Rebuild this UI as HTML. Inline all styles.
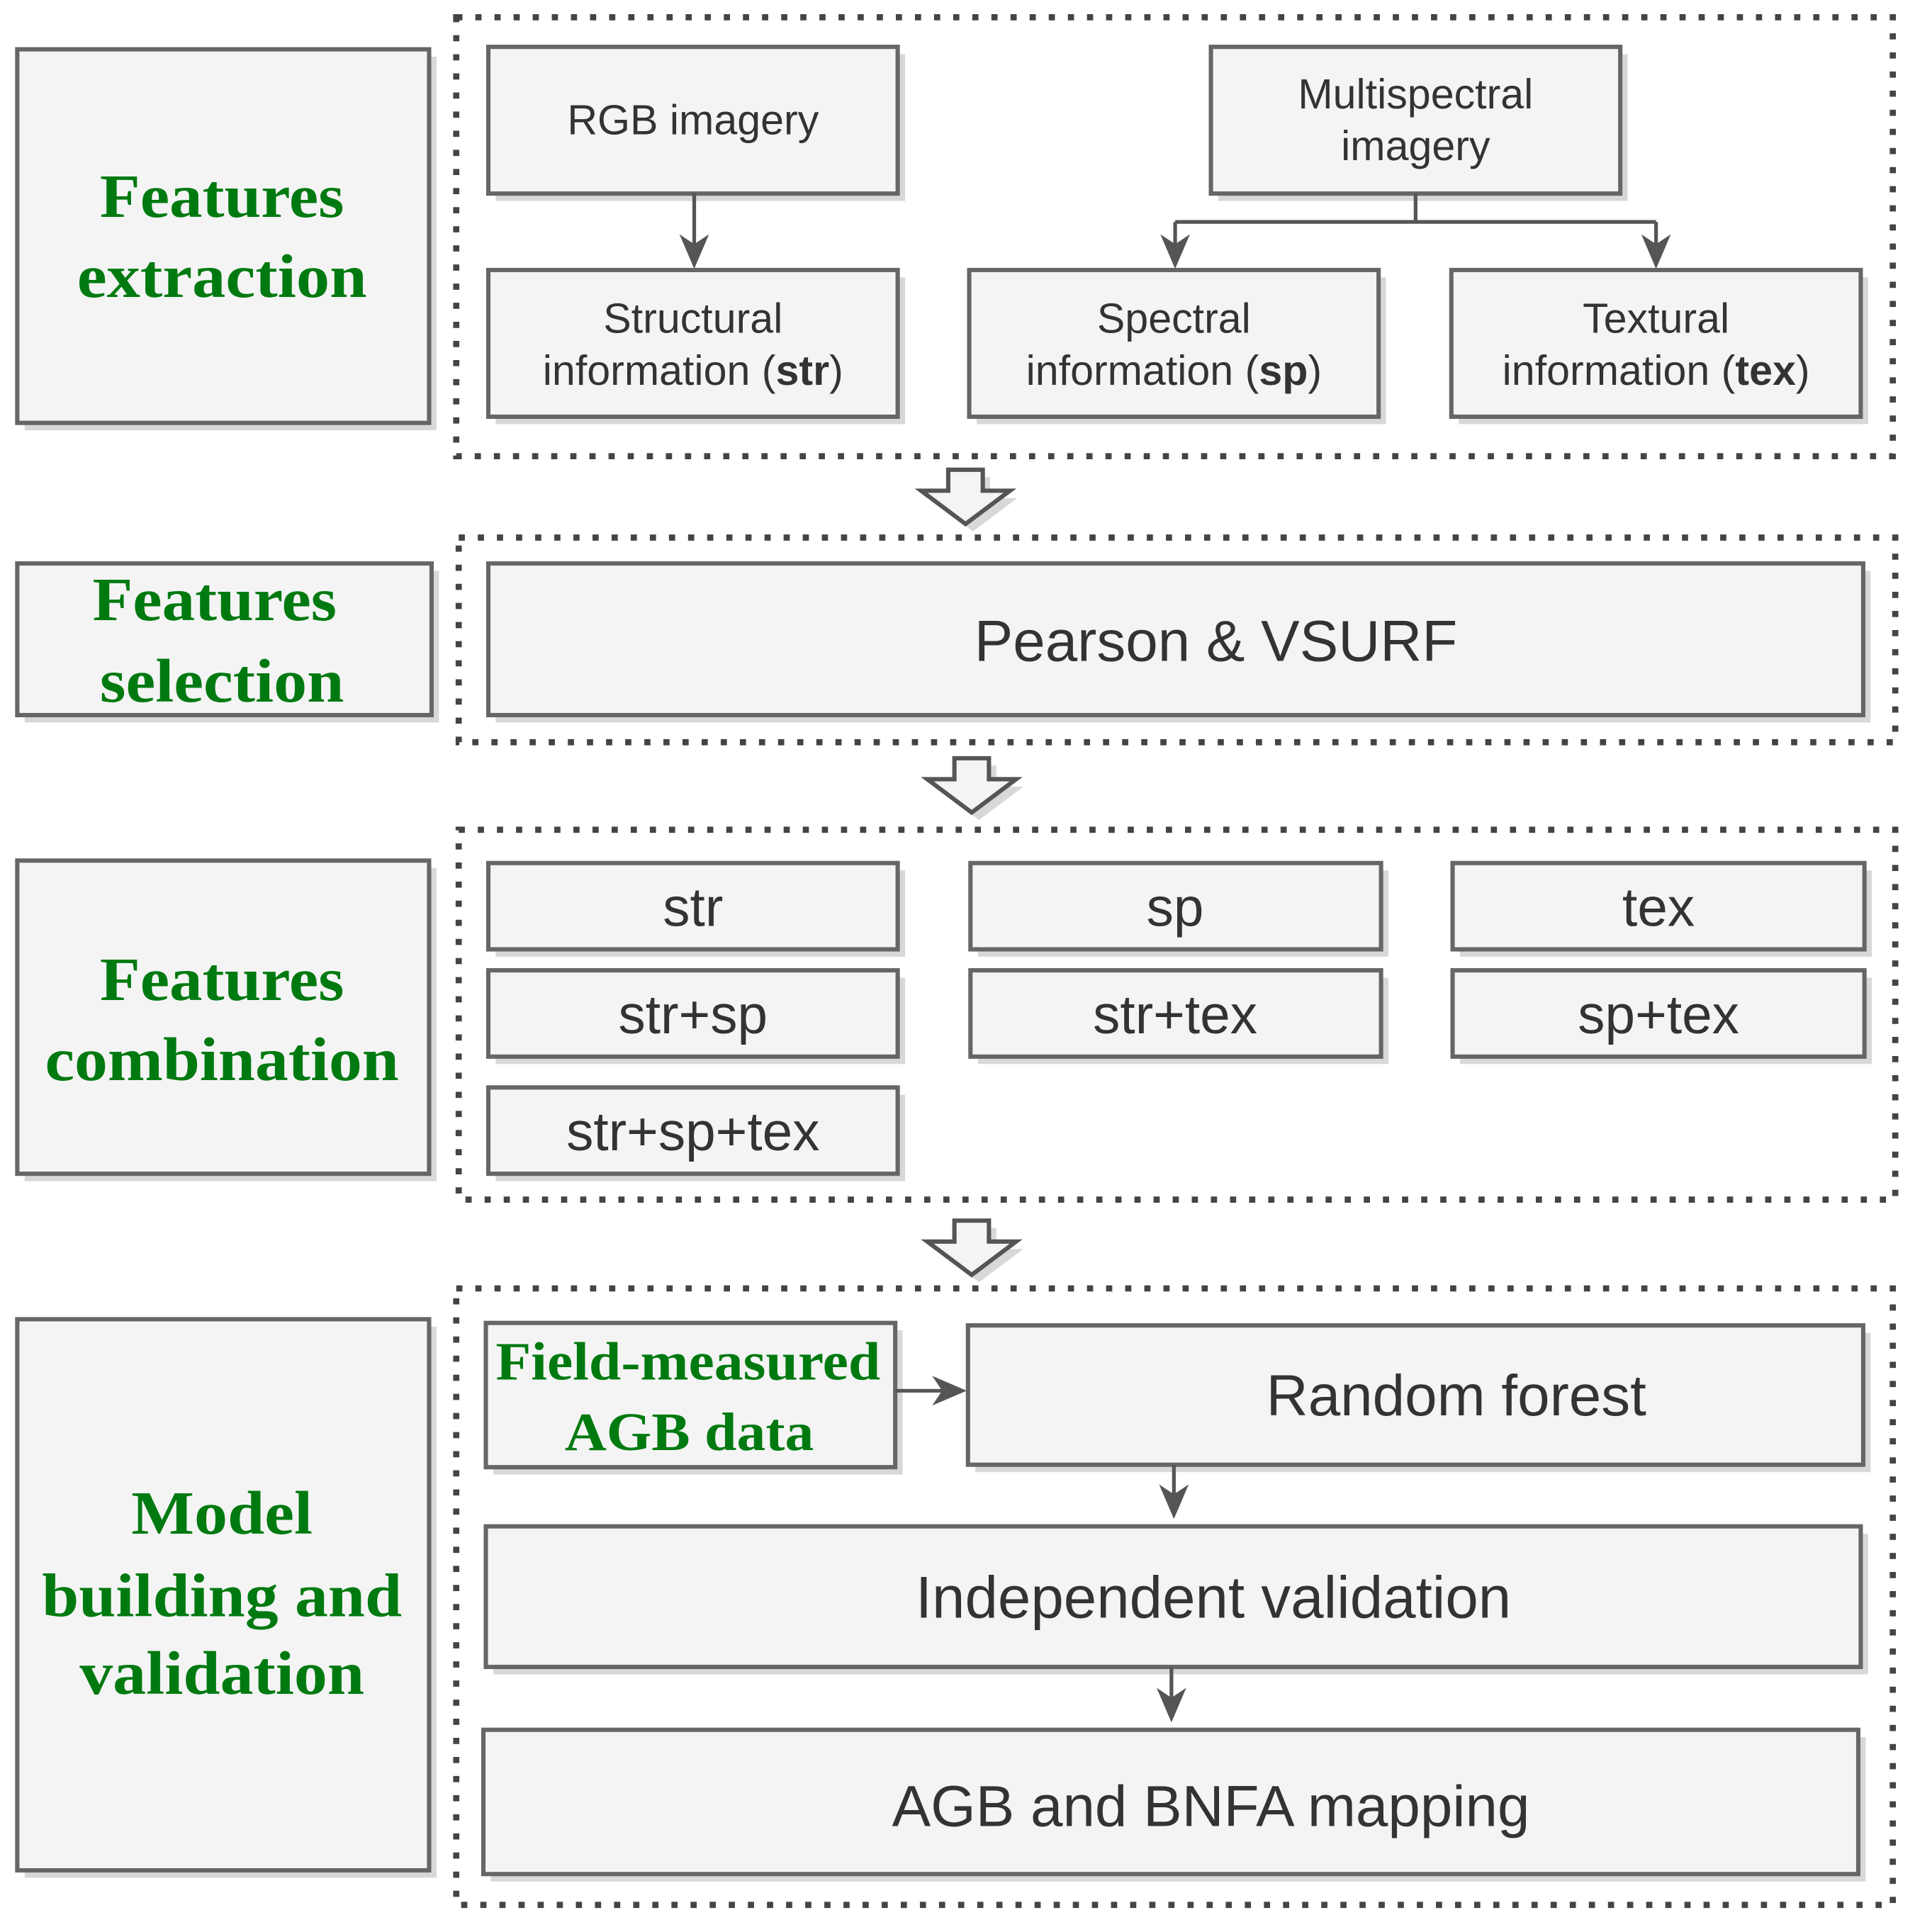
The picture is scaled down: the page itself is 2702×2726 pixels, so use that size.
<!DOCTYPE html>
<html><head><meta charset="utf-8"><style>
html,body{margin:0;padding:0;background:#fff;}
svg{display:block;}
.b{fill:#f4f4f4;stroke:#666;stroke-width:3.5;}
.s{fill:#c8c8c8;stroke:none;opacity:.7;}
.d{fill:none;stroke:#444;stroke-width:5;stroke-dasharray:5 10.5;}
.t{font-family:"Liberation Sans",sans-serif;fill:#333;text-anchor:middle;}
.g{font-family:"Liberation Serif",serif;font-weight:bold;fill:#007a10;text-anchor:middle;}
.l{stroke:#555;stroke-width:3;fill:none;}
.a{fill:#555;}
.h{fill:#f4f4f4;stroke:#555;stroke-width:3.5;}
</style></head><body>
<svg width="2702" height="2726" viewBox="0 0 1553 1567" preserveAspectRatio="none" xmlns="http://www.w3.org/2000/svg">
<rect class="d" x="370" y="14" width="1165" height="356"/>
<rect class="d" x="372" y="436" width="1165" height="166"/>
<rect class="d" x="372" y="673" width="1165" height="300"/>
<rect class="d" x="370" y="1045" width="1165" height="500"/>

<rect class="s" x="20" y="46" width="334" height="303"/><rect class="b" x="14" y="40" width="334" height="303"/>
<text class="g" font-size="50" x="180" y="176" textLength="198" lengthAdjust="spacingAndGlyphs">Features</text><text class="g" font-size="50" x="180" y="241" textLength="235" lengthAdjust="spacingAndGlyphs">extraction</text>
<rect class="s" x="20" y="463" width="336" height="123"/><rect class="b" x="14" y="457" width="336" height="123"/>
<text class="g" font-size="50" x="174" y="503" textLength="198" lengthAdjust="spacingAndGlyphs">Features</text><text class="g" font-size="50" x="180" y="569" textLength="198" lengthAdjust="spacingAndGlyphs">selection</text>
<rect class="s" x="20" y="704" width="334" height="254"/><rect class="b" x="14" y="698" width="334" height="254"/>
<text class="g" font-size="50" x="180" y="811" textLength="198" lengthAdjust="spacingAndGlyphs">Features</text><text class="g" font-size="50" x="180" y="876" textLength="287" lengthAdjust="spacingAndGlyphs">combination</text>
<rect class="s" x="20" y="1076" width="334" height="447"/><rect class="b" x="14" y="1070" width="334" height="447"/>
<text class="g" font-size="50" x="180" y="1244" textLength="147" lengthAdjust="spacingAndGlyphs">Model</text><text class="g" font-size="50" x="180" y="1311" textLength="292" lengthAdjust="spacingAndGlyphs">building and</text><text class="g" font-size="50" x="180" y="1374" textLength="231" lengthAdjust="spacingAndGlyphs">validation</text>

<rect class="s" x="402" y="44" width="332" height="119"/><rect class="b" x="396" y="38" width="332" height="119"/>
<text class="t" font-size="34" x="562" y="109">RGB imagery</text>
<rect class="s" x="988" y="44" width="332" height="119"/><rect class="b" x="982" y="38" width="332" height="119"/>
<text class="t" font-size="34" x="1148" y="88">Multispectral</text><text class="t" font-size="34" x="1148" y="130">imagery</text>
<rect class="s" x="402" y="225" width="332" height="119"/><rect class="b" x="396" y="219" width="332" height="119"/>
<text class="t" font-size="34" x="562" y="270">Structural</text><text class="t" font-size="34" x="562" y="312">information (<tspan font-weight="bold">str</tspan>)</text>
<rect class="s" x="792" y="225" width="332" height="119"/><rect class="b" x="786" y="219" width="332" height="119"/>
<text class="t" font-size="34" x="952" y="270">Spectral</text><text class="t" font-size="34" x="952" y="312">information (<tspan font-weight="bold">sp</tspan>)</text>
<rect class="s" x="1183" y="225" width="332" height="119"/><rect class="b" x="1177" y="219" width="332" height="119"/>
<text class="t" font-size="34" x="1343" y="270">Textural</text><text class="t" font-size="34" x="1343" y="312">information (<tspan font-weight="bold">tex</tspan>)</text>
<path class="l" d="M563 157 V205"/><path class="a" d="M551 190 L563 218 L575 190 L563 198Z"/>
<path class="l" d="M1148 157 V180 M953 180 H1343 M953 180 V205 M1343 180 V205"/>
<path class="a" d="M941 190 L953 218 L965 190 L953 198Z"/><path class="a" d="M1331 190 L1343 218 L1355 190 L1343 198Z"/>

<path class="s" d="M775 387 H803 V404 H825 L789 431 L753 404 H775Z"/>
<path class="h" d="M769 381 H797 V398 H819 L783 425 L747 398 H769Z"/>
<path class="s" d="M780 621 H808 V638 H830 L794 665 L758 638 H780Z"/>
<path class="h" d="M774 615 H802 V632 H824 L788 659 L752 632 H774Z"/>
<path class="s" d="M780 996 H808 V1013 H830 L794 1040 L758 1013 H780Z"/>
<path class="h" d="M774 990 H802 V1007 H824 L788 1034 L752 1007 H774Z"/>

<rect class="s" x="402" y="463" width="1115" height="123"/><rect class="b" x="396" y="457" width="1115" height="123"/>
<text class="t" font-size="47" x="986" y="536">Pearson &amp; VSURF</text>

<rect class="s" x="402" y="706" width="332" height="70"/><rect class="b" x="396" y="700" width="332" height="70"/><text class="t" font-size="44" x="562" y="751">str</text>
<rect class="s" x="793" y="706" width="333" height="70"/><rect class="b" x="787" y="700" width="333" height="70"/><text class="t" font-size="44" x="953" y="751">sp</text>
<rect class="s" x="1184" y="706" width="334" height="70"/><rect class="b" x="1178" y="700" width="334" height="70"/><text class="t" font-size="44" x="1345" y="751">tex</text>
<rect class="s" x="402" y="793" width="332" height="70"/><rect class="b" x="396" y="787" width="332" height="70"/><text class="t" font-size="44" x="562" y="838">str+sp</text>
<rect class="s" x="793" y="793" width="333" height="70"/><rect class="b" x="787" y="787" width="333" height="70"/><text class="t" font-size="44" x="953" y="838">str+tex</text>
<rect class="s" x="1184" y="793" width="334" height="70"/><rect class="b" x="1178" y="787" width="334" height="70"/><text class="t" font-size="44" x="1345" y="838">sp+tex</text>
<rect class="s" x="402" y="888" width="332" height="70"/><rect class="b" x="396" y="882" width="332" height="70"/><text class="t" font-size="44" x="562" y="933">str+sp+tex</text>

<rect class="s" x="400" y="1079" width="332" height="117"/><rect class="b" x="394" y="1073" width="332" height="117"/>
<text class="g" font-size="44" x="558" y="1119" textLength="312" lengthAdjust="spacingAndGlyphs">Field-measured</text><text class="g" font-size="44" x="559" y="1176" textLength="202" lengthAdjust="spacingAndGlyphs">AGB data</text>
<path class="l" d="M726 1128 H770"/><path class="a" d="M756 1116 L784 1128 L756 1140 L764 1128Z"/>
<rect class="s" x="791" y="1081" width="726" height="113"/><rect class="b" x="785" y="1075" width="726" height="113"/>
<text class="t" font-size="47" x="1181" y="1148">Random forest</text>
<path class="l" d="M952 1188 V1220"/><path class="a" d="M940 1204 L952 1232 L964 1204 L952 1212Z"/>
<rect class="s" x="400" y="1244" width="1115" height="114"/><rect class="b" x="394" y="1238" width="1115" height="114"/>
<text class="t" font-size="48" x="984" y="1312">Independent validation</text>
<path class="l" d="M950 1352 V1385"/><path class="a" d="M938 1369 L950 1397 L962 1369 L950 1377Z"/>
<rect class="s" x="398" y="1409" width="1115" height="117"/><rect class="b" x="392" y="1403" width="1115" height="117"/>
<text class="t" font-size="47" x="982" y="1481">AGB and BNFA mapping</text>
</svg>
</body></html>
